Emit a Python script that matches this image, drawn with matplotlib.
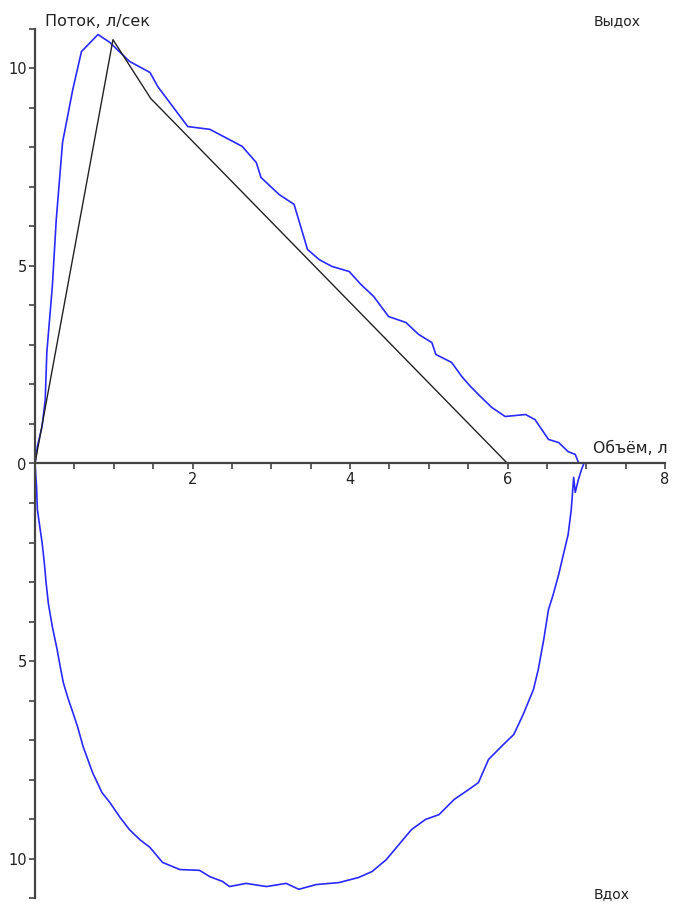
import matplotlib.pyplot as plt
import numpy as np
from matplotlib.ticker import MultipleLocator, FuncFormatter

# expiration branch (volume, flow)
exp_vol = [0, 0.03, 0.09, 0.13, 0.15, 0.22, 0.27, 0.35, 0.48, 0.59, 0.80, 0.95,
           1.20, 1.46, 1.56, 1.71, 1.94, 2.22, 2.63, 2.81, 2.87, 3.10, 3.29, 3.46,
           3.61, 3.77, 3.99, 4.14, 4.30, 4.49, 4.71, 4.87, 5.04, 5.09, 5.29, 5.42,
           5.53, 5.67, 5.80, 5.97, 6.23, 6.35, 6.52, 6.65, 6.77, 6.86, 6.90]
exp_flow = [0, 0.43, 0.94, 1.62, 2.81, 4.48, 6.18, 8.13, 9.47, 10.43, 10.86, 10.66,
            10.18, 9.90, 9.54, 9.14, 8.53, 8.46, 8.03, 7.62, 7.24, 6.81, 6.56, 5.42,
            5.16, 4.99, 4.86, 4.53, 4.23, 3.72, 3.57, 3.27, 3.06, 2.76, 2.56, 2.20,
            1.95, 1.67, 1.42, 1.19, 1.24, 1.11, 0.61, 0.53, 0.30, 0.23, 0.03]

# inspiration branch
insp_vol = [0, 0.02, 0.03, 0.06, 0.09, 0.12, 0.14, 0.17, 0.22, 0.28, 0.32, 0.36,
            0.42, 0.48, 0.54, 0.61, 0.73, 0.85, 0.95, 1.08, 1.20, 1.33, 1.46, 1.62,
            1.84, 2.09, 2.22, 2.38, 2.47, 2.68, 2.94, 3.19, 3.35, 3.57, 3.86, 4.11,
            4.28, 4.46, 4.62, 4.78, 4.96, 5.13, 5.32, 5.51, 5.63, 5.76, 5.95, 6.08,
            6.20, 6.33, 6.39, 6.46, 6.52, 6.58, 6.65, 6.71, 6.77, 6.81, 6.84, 6.86,
            6.90, 6.94, 6.97]
insp_flow = [0, -0.60, -1.16, -1.59, -2.00, -2.55, -3.00, -3.55, -4.13, -4.70, -5.14, -5.55,
             -5.95, -6.30, -6.66, -7.16, -7.82, -8.33, -8.58, -8.96, -9.27, -9.52, -9.72, -10.10,
             -10.28, -10.30, -10.46, -10.58, -10.71, -10.63, -10.71, -10.63, -10.78, -10.66, -10.61, -10.48,
             -10.33, -10.03, -9.65, -9.27, -9.01, -8.89, -8.51, -8.25, -8.08, -7.49, -7.11, -6.86,
             -6.35, -5.72, -5.22, -4.46, -3.70, -3.32, -2.81, -2.30, -1.80, -1.16, -0.35, -0.73,
             -0.41, -0.15, 0]

# due (reference) triangle
ref_vol = [0, 0.99, 1.47, 6.0]
ref_flow = [0, 10.73, 9.24, 0]

fig = plt.figure(figsize=(6.75, 9.05), dpi=100)
ax = fig.add_axes([35 / 675, 1 - 898 / 905, 630 / 675, 869 / 905])

ax.plot(exp_vol, exp_flow, color='#2a2aff', lw=1.2)
ax.plot(insp_vol, insp_flow, color='#2a2aff', lw=1.2)
ax.plot(ref_vol, ref_flow, color='#222222', lw=1.0)

ax.set_xlim(0, 8)
ax.set_ylim(-11, 11)

axcol = '#444444'
for s in ['top', 'right']:
    ax.spines[s].set_visible(False)
ax.spines['bottom'].set_position(('data', 0))
ax.spines['left'].set_position(('data', 0))
for s in ['bottom', 'left']:
    ax.spines[s].set_color(axcol)
    ax.spines[s].set_linewidth(1.6)

ax.xaxis.set_major_locator(MultipleLocator(2))
ax.xaxis.set_minor_locator(MultipleLocator(0.5))
ax.yaxis.set_major_locator(MultipleLocator(5))
ax.yaxis.set_minor_locator(MultipleLocator(1))
ax.xaxis.set_major_formatter(FuncFormatter(lambda v, p: '' if v == 0 else '%d' % v))
ax.yaxis.set_major_formatter(FuncFormatter(lambda v, p: '%d' % abs(v)))
ax.tick_params(which='both', direction='out', color=axcol, width=1.2, length=4,
               labelsize=10.5, labelcolor='#222222', pad=2)

tc = '#222222'
ax.text(0.13, 11.2, 'Поток, л/сек', fontsize=11.5, color=tc, va='center', ha='left', clip_on=False)
ax.text(7.09, 11.2, 'Выдох', fontsize=10, color=tc, va='center', ha='left', clip_on=False)
ax.text(7.09, 0.38, 'Объём, л', fontsize=11.3, color=tc, va='center', ha='left', clip_on=False)
ax.text(7.09, -10.9, 'Вдох', fontsize=10, color=tc, va='center', ha='left', clip_on=False)

fig.savefig('out.png', dpi=100)
